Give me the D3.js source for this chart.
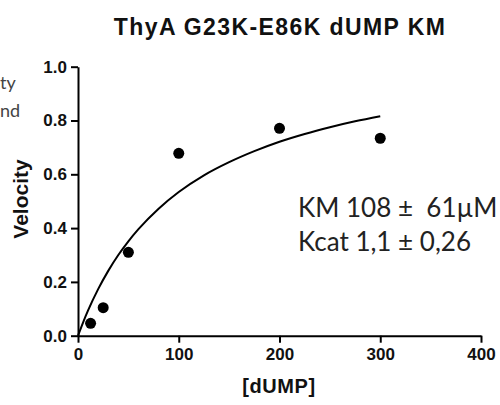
<!DOCTYPE html>
<html>
<head>
<meta charset="utf-8">
<script src="https://cdn.jsdelivr.net/npm/d3@7/dist/d3.min.js"></script>
<style>
  html, body { margin: 0; padding: 0; background: #fff; }
  svg { display: block; }
</style>
</head>
<body>
<svg id="chart" width="500" height="405"></svg>
<script>
// Data
const substrate = [12.5, 25, 50, 100, 200, 300];      // [dUMP]
const velocity  = [0.046, 0.104, 0.31, 0.678, 0.771, 0.734];
// Fitted curve
const fitX = [0, 5, 10, 20, 30, 40, 50, 60, 80, 100, 125, 150, 175, 200, 225, 250, 275, 300];
const fitY = [0, 0.049, 0.094, 0.173, 0.241, 0.300, 0.351, 0.396, 0.472, 0.534, 0.596, 0.645, 0.686, 0.721, 0.750, 0.775, 0.797, 0.816];
const xTicks = [0, 100, 200, 300, 400];
const yTicks = [0.0, 0.2, 0.4, 0.6, 0.8, 1.0];
const title = "ThyA G23K-E86K dUMP KM";
const xLabel = "[dUMP]";
const yLabel = "Velocity";
const annotation = ["KM 108 \u00B1  61\u00B5M", "Kcat 1,1 \u00B1 0,26"];
const croppedText = ["ty", "nd"];

const svg = d3.select("#chart");
const x = d3.scaleLinear().domain([0, 400]).range([78, 481]);
const y = d3.scaleLinear().domain([0, 1]).range([335.7, 66.7]);

const axisFont = "'Liberation Sans', Arial, sans-serif";

// Y axis
const gy = svg.append("g").attr("transform", `translate(${x(0)},0)`)
  .call(d3.axisLeft(y).tickValues(yTicks).tickFormat(d3.format(".1f")).tickSize(7).tickSizeOuter(0).tickPadding(4));
// X axis
const gx = svg.append("g").attr("transform", `translate(0,${y(0)})`)
  .call(d3.axisBottom(x).tickValues(xTicks).tickFormat(d3.format("d")).tickSize(7).tickSizeOuter(0).tickPadding(5));

[gx, gy].forEach(g => {
  g.select(".domain").attr("stroke", "#000").attr("stroke-width", 2);
  g.selectAll(".tick line").attr("stroke", "#000").attr("stroke-width", 2);
  g.selectAll(".tick text").attr("fill", "#111")
    .style("font-family", axisFont).style("font-weight", "bold").style("font-size", "17px");
});

// Fit curve
const line = d3.line().x(d => x(d[0])).y(d => y(d[1])).curve(d3.curveMonotoneX);
svg.append("path")
  .datum(fitX.map((v, i) => [v, fitY[i]]))
  .attr("d", line)
  .attr("fill", "none").attr("stroke", "#000").attr("stroke-width", 2);

// Points
svg.append("g").selectAll("circle")
  .data(substrate.map((v, i) => [v, velocity[i]]))
  .join("circle")
  .attr("cx", d => x(d[0])).attr("cy", d => y(d[1])).attr("r", 5.5)
  .attr("fill", "#000");

// Title
svg.append("text").attr("x", 280).attr("y", 35).attr("text-anchor", "middle")
  .style("font-family", axisFont).style("font-weight", "bold").style("font-size", "23px")
  .style("letter-spacing", "1.4px")
  .attr("fill", "#111").text(title);

// X label
svg.append("text").attr("x", 279).attr("y", 393).attr("text-anchor", "middle")
  .style("font-family", axisFont).style("font-weight", "bold").style("font-size", "20px")
  .style("letter-spacing", "0.6px")
  .attr("fill", "#111").text(xLabel);

// Y label
svg.append("text").attr("transform", "translate(28,199) rotate(-90)").attr("text-anchor", "middle")
  .style("font-family", axisFont).style("font-weight", "bold").style("font-size", "21px")
  .attr("fill", "#111").text(yLabel);

// Annotation
svg.append("g").selectAll("text").data(annotation).join("text")
  .attr("x", 298).attr("y", (d, i) => 217 + i * 34)
  .style("font-family", "Lato, 'Open Sans', sans-serif").style("font-size", "26px")
  .style("white-space", "pre")
  .attr("fill", "#222").text(d => d);

// Cropped text on the left edge
svg.append("g").selectAll("text").data(croppedText).join("text")
  .attr("x", 0).attr("y", (d, i) => 89 + i * 28)
  .style("font-family", "Lato, 'Open Sans', sans-serif").style("font-size", "18px")
  .attr("fill", "#444").text(d => d);
</script>
</body>
</html>
